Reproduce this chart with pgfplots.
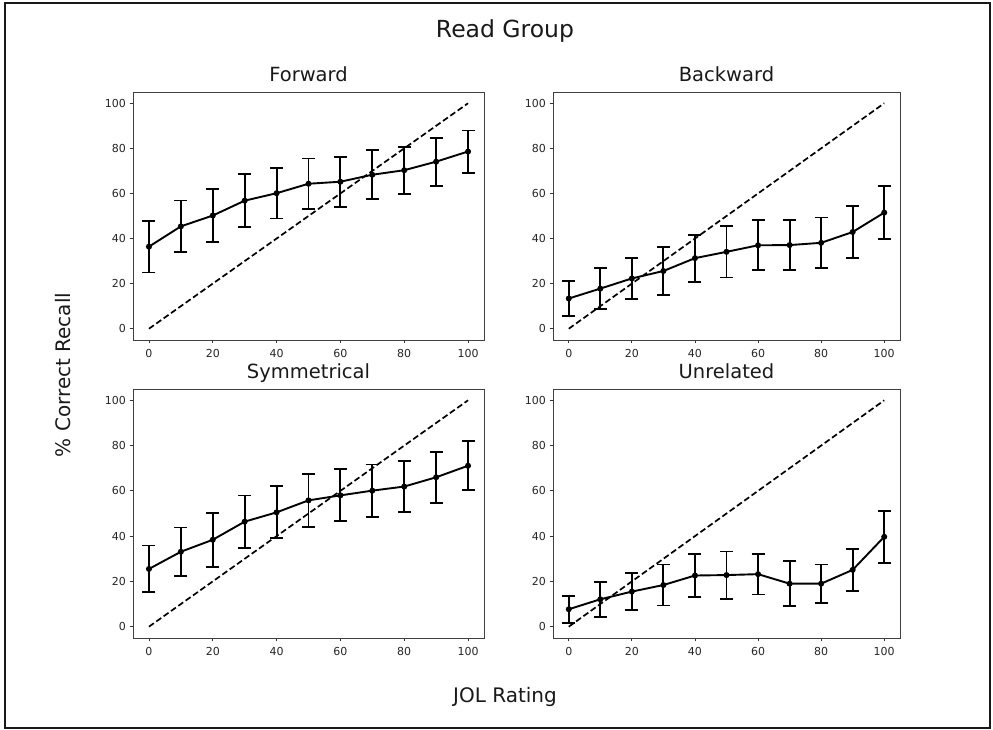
\documentclass[border=0pt]{standalone}
\usepackage{pgfplots}
\pgfplotsset{compat=1.18}
\usepackage{pgfplotstable}
\usepackage{fontspec}
\setmainfont{DejaVu Sans}

\pgfplotstableread{
x y e
0 36.4 11.45
10 45.4 11.5
20 50.2 11.85
30 56.8 11.8
40 60.1 11.2
50 64.3 11.2
60 65.2 11.1
70 68.3 10.85
80 70.3 10.4
90 74.1 10.65
100 78.6 9.35
}\fwd

\pgfplotstableread{
x y e
0 13.4 7.8
10 17.8 9.0
20 22.3 9.25
30 25.6 10.75
40 31.3 10.45
50 34.1 11.35
60 37.0 11.1
70 37.1 11.1
80 38.1 11.25
90 42.9 11.5
100 51.5 11.75
}\bwd

\pgfplotstableread{
x y e
0 25.5 10.35
10 33.1 10.7
20 38.4 11.85
30 46.4 11.55
40 50.5 11.5
50 55.8 11.6
60 58.0 11.5
70 60.1 11.55
80 61.9 11.25
90 66.0 11.2
100 71.1 10.8
}\sym

\pgfplotstableread{
x y e
0 7.7 5.9
10 12.1 7.75
20 15.5 8.3
30 18.4 9.05
40 22.6 9.5
50 22.8 10.4
60 23.2 9.0
70 19.0 9.85
80 19.0 8.45
90 25.1 9.4
100 39.7 11.55
}\unr

\pgfplotsset{
  panel/.style={
    scale only axis, anchor=south west,
    xmin=-5, xmax=105, ymin=-5, ymax=105,
    xtick={0,20,...,100}, ytick={0,20,...,100},
    tick align=outside, major tick length=3.5pt,
    xtick pos=bottom, ytick pos=left,
    tick style={black!80, line width=0.8pt},
    axis line style={black!75, line width=0.9pt},
    ticklabel style={font=\fontsize{11}{13}\selectfont, text=black!85},
    xticklabel style={yshift=-2pt},
    /pgf/number format/assume math mode=true,
    title style={font=\fontsize{19.5}{22}\selectfont, at={(0.5,1)}, anchor=base, yshift=4pt, text=black!90},
  },
  diag/.style={black, line width=1.7pt, dash pattern=on 6pt off 3pt},
  dat/.style={black, line width=1.9pt, mark=*, mark size=2pt,
    error bars/.cd, y dir=both, y explicit, error mark=|,
    error bar style={line width=1.85pt, solid},
    error mark options={mark size=6.5pt, line width=1.85pt}},
}

\begin{document}
\begin{tikzpicture}
\useasboundingbox (0,0) rectangle (993pt,730pt);
\fill[white] (0,0) rectangle (993pt,730pt);
\draw[black!90, line width=1.8pt] (5pt,2pt) rectangle (990pt,727pt);

\node[anchor=base, font=\fontsize{23.5}{26}\selectfont, text=black!90] at (505pt,692pt) {Read Group};
\node[anchor=base, font=\fontsize{20}{24}\selectfont, text=black!90] at (505pt,27pt) {JOL Rating};
\node[anchor=base, rotate=90, font=\fontsize{20}{24}\selectfont, text=black!90] at (70pt,355pt) {\% Correct Recall};

\begin{axis}[panel, at={(133pt,390pt)}, width=351pt, height=248pt, title={Forward}]
\addplot[diag] coordinates {(0,0) (100,100)};
\addplot[dat] table[x=x, y=y, y error=e] {\fwd};
\end{axis}

\begin{axis}[panel, at={(553pt,390pt)}, width=347pt, height=248pt, title={Backward}]
\addplot[diag] coordinates {(0,0) (100,100)};
\addplot[dat] table[x=x, y=y, y error=e] {\bwd};
\end{axis}

\begin{axis}[panel, at={(133pt,92pt)}, width=351pt, height=249pt, title={Symmetrical}]
\addplot[diag] coordinates {(0,0) (100,100)};
\addplot[dat] table[x=x, y=y, y error=e] {\sym};
\end{axis}

\begin{axis}[panel, at={(553pt,92pt)}, width=347pt, height=249pt, title={Unrelated}]
\addplot[diag] coordinates {(0,0) (100,100)};
\addplot[dat] table[x=x, y=y, y error=e] {\unr};
\end{axis}
\end{tikzpicture}
\end{document}
